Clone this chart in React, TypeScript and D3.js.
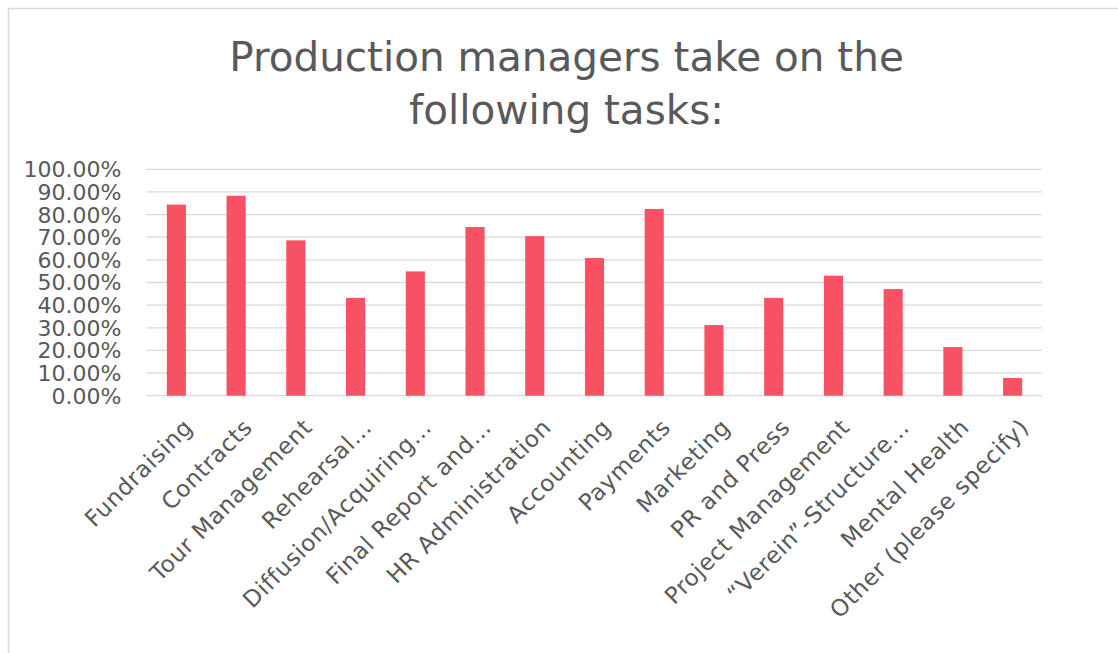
import React from "react";
import * as d3 from "d3";

const categories: string[] = [
  "Fundraising",
  "Contracts",
  "Tour Management",
  "Rehearsal…",
  "Diffusion/Acquiring…",
  "Final Report and…",
  "HR Administration",
  "Accounting",
  "Payments",
  "Marketing",
  "PR and Press",
  "Project Management",
  "“Verein”-Structure…",
  "Mental Health",
  "Other (please specify)",
];

const values: number[] = [
  0.844, 0.883, 0.686, 0.432, 0.549, 0.745, 0.705, 0.608, 0.825, 0.312, 0.432,
  0.53, 0.471, 0.215, 0.078,
];

const yTicks: number[] = [0, 0.1, 0.2, 0.3, 0.4, 0.5, 0.6, 0.7, 0.8, 0.9, 1.0];

const titleLines: string[] = ["Production managers take on the", "following tasks:"];

const W = 1118;
const H = 653;
const FONT = "'DejaVu Sans', sans-serif";
const TEXT = "#595959";
const GRID = "#d9d9d9";
const BAR = "#F75263";

export default function App() {
  const x = d3
    .scaleBand<string>()
    .domain(categories)
    .range([146.5, 1042.5])
    .paddingInner(0.68)
    .paddingOuter(0.34);
  const y = d3.scaleLinear().domain([0, 1]).range([395.7, 169.3]);
  const fmt = d3.format(".2%");

  return (
    <svg
      width={W}
      height={H}
      style={{ position: "absolute", left: 0, top: 0, background: "#fff" }}
      fontFamily={FONT}
    >
      <rect x={8.5} y={8.5} width={1115} height={700} fill="#fff" stroke={GRID} strokeWidth={1.5} />
      {titleLines.map((t, i) => (
        <text
          key={i}
          x={566.5}
          y={71 + i * 53}
          textAnchor="middle"
          fontSize={40.5}
          fill={TEXT}
        >
          {t}
        </text>
      ))}
      {yTicks.map((t) => (
        <g key={t}>
          <line x1={146.5} x2={1042} y1={y(t)} y2={y(t)} stroke={GRID} strokeWidth={1.3} />
          <text x={121.5} y={y(t)} dy="0.36em" textAnchor="end" fontSize={22} fill={TEXT}>
            {fmt(t)}
          </text>
        </g>
      ))}
      {categories.map((c, i) => (
        <rect
          key={c}
          x={x(c)}
          y={y(values[i])}
          width={x.bandwidth()}
          height={y(0) - y(values[i])}
          fill={BAR}
        />
      ))}
      {categories.map((c) => {
        const cx = (x(c) as number) + x.bandwidth() / 2;
        return (
          <text
            key={c}
            transform={`translate(${cx + 12},${423}) rotate(-45)`}
            dy="0.35em"
            textAnchor="end"
            fontSize={23}
            letterSpacing={0.7}
            fill={TEXT}
          >
            {c}
          </text>
        );
      })}
    </svg>
  );
}
